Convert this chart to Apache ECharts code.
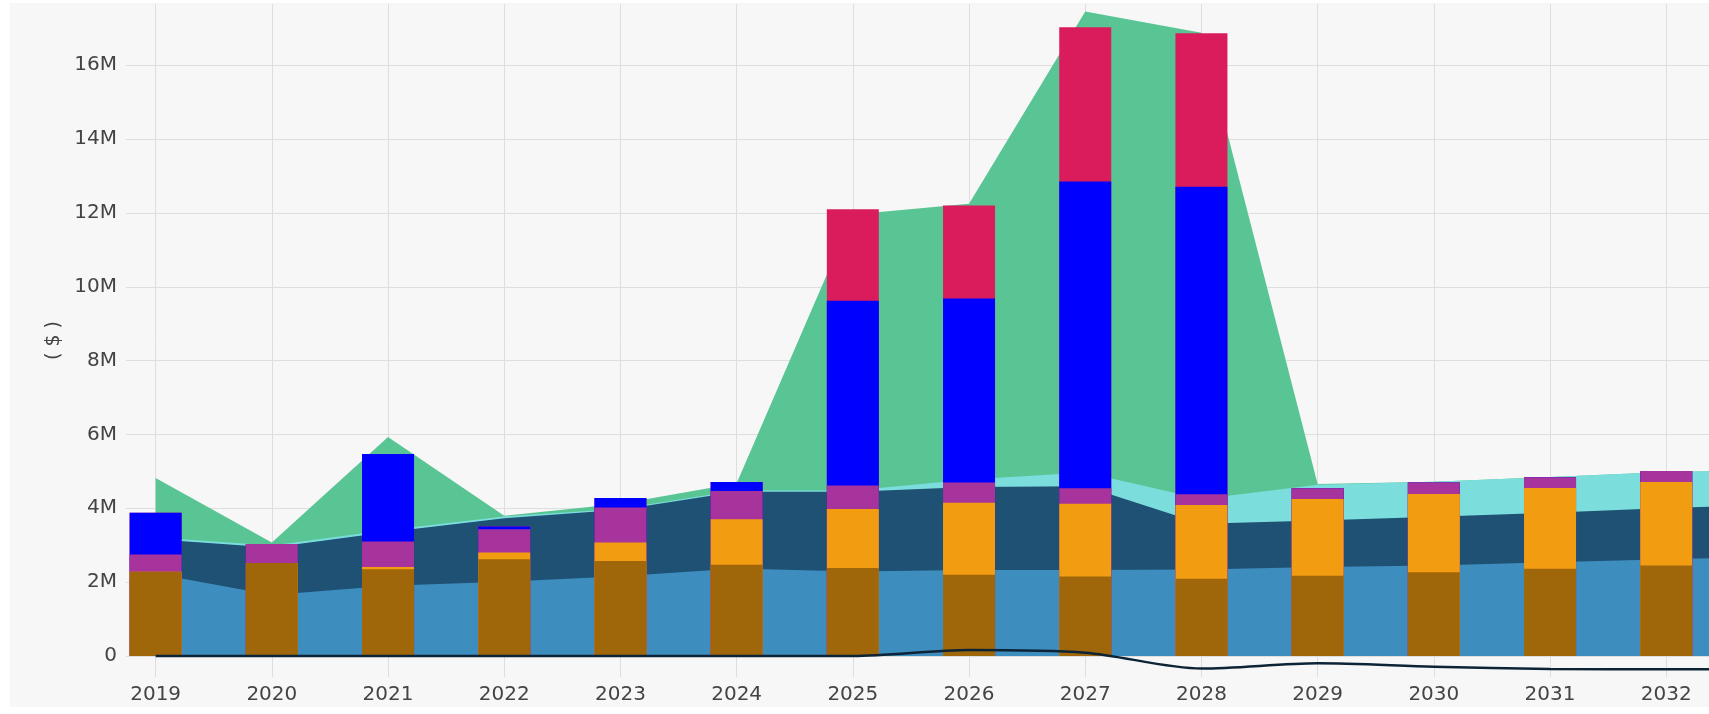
<!DOCTYPE html>
<html>
<head>
<meta charset="utf-8">
<script src="https://cdn.jsdelivr.net/npm/echarts@6/dist/echarts.min.js"></script>
<style>
    html, body { margin: 0; padding: 0; background: #ffffff; overflow: hidden; }
    #main { position: absolute; left: 10px; top: 3px; width: 1699px; height: 704px; background: #f7f7f7; }
</style>
</head>
<body>
<div id="main"></div>
<script type="text/javascript">
// years on the x axis (2033 is only partly visible at the right edge)
var years = [2019, 2020, 2021, 2022, 2023, 2024, 2025, 2026, 2027, 2028, 2029, 2030, 2031, 2032, 2033];
var yearLabels = [2019, 2020, 2021, 2022, 2023, 2024, 2025, 2026, 2027, 2028, 2029, 2030, 2031, 2032];
var yTicks = [0, 2, 4, 6, 8, 10, 12, 14, 16];
var yTickLabels = ['0', '2M', '4M', '6M', '8M', '10M', '12M', '14M', '16M'];

// stacked areas, bottom to top (millions of $)
var areaLightBlue = [2.23, 1.65, 1.90, 2.01, 2.16, 2.37, 2.29, 2.33, 2.33, 2.34, 2.41, 2.45, 2.54, 2.62, 2.70];
var areaNavy      = [0.93, 1.29, 1.46, 1.72, 1.80, 2.08, 2.16, 2.25, 2.27, 1.24, 1.26, 1.32, 1.34, 1.39, 1.40];
var areaCyan      = [0.05, 0.05, 0.05, 0.05, 0.03, 0.03, 0.03, 0.20, 0.37, 0.67, 0.97, 0.95, 0.97, 0.97, 0.95];
var areaGreen     = [1.61, 0.08, 2.52, 0.02, 0.13, 0.20, 7.48, 7.47, 12.49, 12.63, 0.02, 0, 0, 0, 0];
var netLine       = [0, 0, 0, 0, 0, 0, 0, 0.16, 0.09, -0.34, -0.20, -0.29, -0.35, -0.36, -0.36];

// stacked bars, bottom to top (millions of $)
var barBrown   = [2.28, 2.52, 2.35, 2.62, 2.57, 2.47, 2.38, 2.20, 2.15, 2.09, 2.17, 2.27, 2.36, 2.45];
var barOrange  = [0, 0, 0.06, 0.18, 0.50, 1.23, 1.60, 1.95, 1.97, 2.00, 2.08, 2.12, 2.19, 2.26];
var barPurple  = [0.47, 0.51, 0.69, 0.63, 0.95, 0.77, 0.64, 0.55, 0.42, 0.29, 0.29, 0.31, 0.29, 0.30];
var barBlue    = [1.13, 0, 2.37, 0.08, 0.26, 0.24, 5.00, 4.98, 8.31, 8.33, 0, 0, 0, 0];
var barCrimson = [0, 0, 0, 0, 0, 0, 2.48, 2.52, 4.18, 4.16, 0, 0, 0, 0];

// running totals of the layers, so each layer is drawn from 0 up to its stacked top
// (top layers first, lower layers painted over them)
function runningTops(layers) {
    var sum = layers[0].map(function () { return 0; });
    return layers.map(function (layer) {
        sum = sum.map(function (s, i) { return s + layer[i]; });
        return sum.slice();
    });
}

function pairs(values) {
    return values.map(function (v, i) { return [years[i], +v.toFixed(4)]; });
}

function areaSeries(name, tops, color) {
    return {
        name: name,
        type: 'line',
        z: 2,
        data: pairs(tops),
        showSymbol: false,
        lineStyle: { width: 0 },
        areaStyle: { color: color, opacity: 1 },
        itemStyle: { color: color }
    };
}

function barSeries(name, tops, color) {
    return {
        name: name,
        type: 'bar',
        z: 4,
        barWidth: 52,
        barGap: '-100%',
        data: pairs(tops),
        itemStyle: { color: color }
    };
}

var areaTops = runningTops([areaLightBlue, areaNavy, areaCyan, areaGreen]);
var barTops = runningTops([barBrown, barOrange, barPurple, barBlue, barCrimson]);

var myChart = echarts.init(document.getElementById('main'));
var labelFont = { color: '#444', fontSize: 20, fontFamily: 'DejaVu Sans' };

var option = {
    animation: false,
    backgroundColor: '#f7f7f7',
    grid: { left: 116, right: 0, top: 1, bottom: 30 },
    xAxis: {
        type: 'value',
        min: 2018.745,
        max: 2032.368,
        axisLine: { show: false },
        axisTick: { show: false, customValues: yearLabels },
        axisLabel: Object.assign({ customValues: yearLabels, margin: 8, formatter: function (v) { return String(v); } }, labelFont),
        splitLine: { show: true, lineStyle: { color: '#dedede', width: 1 } }
    },
    yAxis: {
        type: 'value',
        min: -0.57,
        max: 17.66,
        name: '( $ )',
        nameLocation: 'middle',
        nameGap: 62,
        nameRotate: 90,
        nameTextStyle: { color: '#444', fontSize: 19, fontFamily: 'DejaVu Sans' },
        axisLine: { show: false },
        axisTick: { show: false, customValues: yTicks },
        axisLabel: Object.assign({
            customValues: yTicks,
            margin: 9,
            formatter: function (v) { return yTickLabels[yTicks.indexOf(v)]; }
        }, labelFont),
        splitLine: { show: true, lineStyle: { color: '#dedede', width: 1 } }
    },
    series: [
        areaSeries('Area 4', areaTops[3], '#5ac594'),
        areaSeries('Area 3', areaTops[2], '#7bdedc'),
        areaSeries('Area 2', areaTops[1], '#1f5174'),
        areaSeries('Area 1', areaTops[0], '#3d8dbe'),
        barSeries('Bar 5', barTops[4], '#da1c5c'),
        barSeries('Bar 4', barTops[3], '#0000ff'),
        barSeries('Bar 3', barTops[2], '#a6349c'),
        barSeries('Bar 2', barTops[1], '#f29c12'),
        barSeries('Bar 1', barTops[0], '#a0660a'),
        {
            name: 'Net',
            type: 'line',
            z: 6,
            data: pairs(netLine),
            showSymbol: false,
            smooth: 0.3,
            lineStyle: { color: '#0d2436', width: 2.5 },
            itemStyle: { color: '#0d2436' }
        }
    ]
};
myChart.setOption(option);
</script>
</body>
</html>
